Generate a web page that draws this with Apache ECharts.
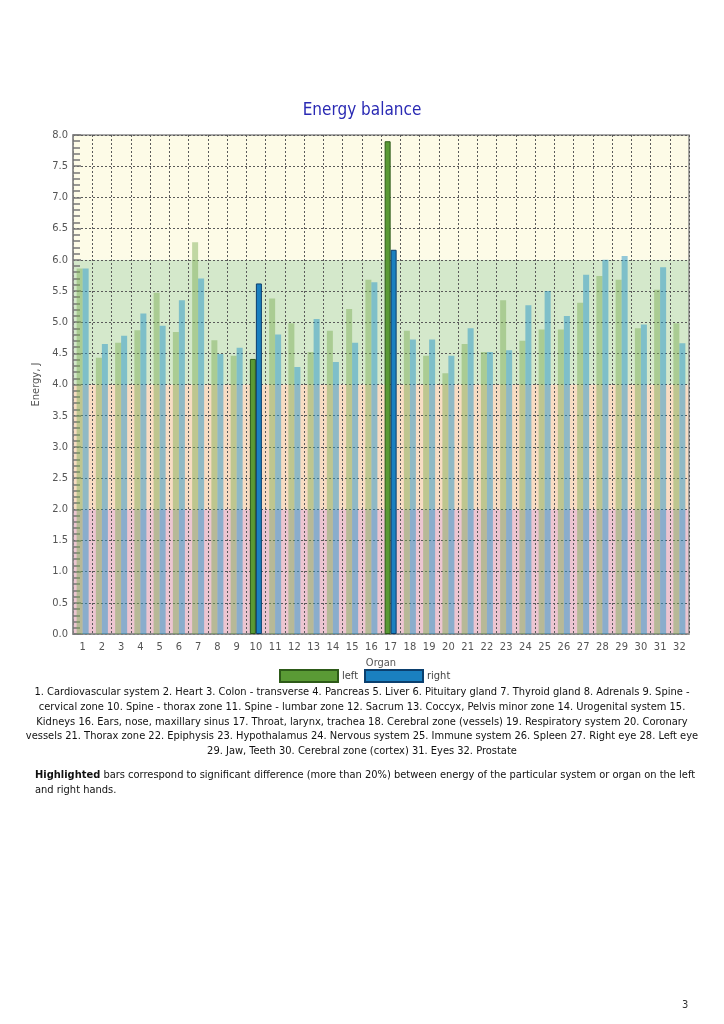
<!DOCTYPE html>
<html>
<head>
<meta charset="utf-8">
<script src="https://cdn.jsdelivr.net/npm/echarts@6/dist/echarts.min.js"></script>
<style>
html,body{margin:0;padding:0;background:#fff;}
#chart{width:724px;height:1024px;}
</style>
</head>
<body>
<div id="chart"></div>
<script>
const organs = ['1','2','3','4','5','6','7','8','9','10','11','12','13','14','15','16','17','18','19','20','21','22','23','24','25','26','27','28','29','30','31','32'];
const leftValues = [5.86,4.43,4.67,4.87,5.47,4.84,6.28,4.71,4.46,4.41,5.38,4.98,4.52,4.86,5.21,5.68,7.90,4.86,4.46,4.18,4.65,4.52,5.35,4.70,4.88,4.88,5.31,5.74,5.68,4.90,5.52,4.98];
const rightValues = [5.86,4.65,4.78,5.14,4.94,5.35,5.70,4.49,4.59,5.62,4.80,4.28,5.05,4.36,4.67,5.64,6.16,4.72,4.72,4.46,4.90,4.52,4.55,5.27,5.50,5.10,5.76,6.00,6.06,4.96,5.88,4.66];
const highlighted = ['10','17'];
const yTicks = [0,0.5,1,1.5,2,2.5,3,3.5,4,4.5,5,5.5,6,6.5,7,7.5,8];
const bands = [[0,2,'#ecc5d1'],[2,4,'#f7dcc3'],[4,6,'#d4e8cb'],[6,8,'#fdfbe7']];
const footLines = [
 '1. Cardiovascular system 2. Heart 3. Colon - transverse 4. Pancreas 5. Liver 6. Pituitary gland 7. Thyroid gland 8. Adrenals 9. Spine -',
 'cervical zone 10. Spine - thorax zone 11. Spine - lumbar zone 12. Sacrum 13. Coccyx, Pelvis minor zone 14. Urogenital system 15.',
 'Kidneys 16. Ears, nose, maxillary sinus 17. Throat, larynx, trachea 18. Cerebral zone (vessels) 19. Respiratory system 20. Coronary',
 'vessels 21. Thorax zone 22. Epiphysis 23. Hypothalamus 24. Nervous system 25. Immune system 26. Spleen 27. Right eye 28. Left eye',
 '29. Jaw, Teeth 30. Cerebral zone (cortex) 31. Eyes 32. Prostate'
];
const noteBold = 'Highlighted';
const noteLine1 = ' bars correspond to significant difference (more than 20%) between energy of the particular system or organ on the left';
const noteLine2 = 'and right hands.';

const FONT = '"DejaVu Sans Condensed", "DejaVu Sans", sans-serif';

function mk(vals, hiColor, hiBorder, dimColor) {
  return vals.map((v, i) => highlighted.includes(organs[i])
    ? {value: v, itemStyle: {color: hiColor, borderColor: hiBorder, borderWidth: 1}}
    : {value: v, itemStyle: {color: dimColor, borderWidth: 0}});
}

const graphics = [];
footLines.forEach((t, i) => {
  graphics.push({type: 'text', left: 'center', top: 687 + i * 14.6,
    style: {text: t, font: '11px ' + FONT, fill: '#111'}});
});
graphics.push({type: 'text', left: 35, top: 768,
  style: {text: '{b|' + noteBold + '}' + noteLine1 + '\n' + noteLine2,
    font: '11px ' + FONT, fill: '#111', lineHeight: 15,
    rich: {b: {fontWeight: 'bold', fontFamily: FONT, fontSize: 11, fill: '#111'}}}});
graphics.push({type: 'text', left: 682, top: 1000,
  style: {text: '3', font: '11px ' + FONT, fill: '#333'}});

const chart = echarts.init(document.getElementById('chart'));
chart.setOption({
  backgroundColor: '#ffffff',
  animation: false,
  title: {text: 'Energy balance', left: 'center', top: 97,
    textStyle: {color: '#2a2ab4', fontSize: 17, fontWeight: 'normal', fontFamily: FONT}},
  legend: {data: ['left', 'right'], top: 669, left: 279, padding: 0, icon: 'rect',
    itemWidth: 58, itemHeight: 12, itemGap: 6,
    textStyle: {fontFamily: FONT, fontSize: 11, color: '#444', padding: [0, 0, 0, -1]}},
  grid: {left: 73, right: 35, top: 135, bottom: 390, show: true, z: 2,
    borderColor: '#8c8c8c', borderWidth: 1.5, backgroundColor: 'transparent'},
  xAxis: {type: 'category', data: organs, boundaryGap: true, z: 2,
    name: 'Organ', nameLocation: 'middle', nameGap: 24,
    nameTextStyle: {fontFamily: FONT, fontSize: 11, color: '#555'},
    axisLine: {lineStyle: {color: '#8c8c8c', width: 1.5}},
    axisTick: {show: false},
    axisLabel: {interval: 0, fontFamily: FONT, fontSize: 11, color: '#555', margin: 8},
    splitLine: {show: true, interval: 0, lineStyle: {type: [2, 2], color: '#5a5a5a', width: 1}}},
  yAxis: {type: 'value', min: yTicks[0], max: yTicks[yTicks.length - 1], interval: 0.5, z: 2,
    name: 'Energy, J', nameLocation: 'middle', nameGap: 29,
    nameTextStyle: {fontFamily: FONT, fontSize: 11, color: '#555'},
    axisLine: {show: true, lineStyle: {color: '#8c8c8c', width: 1.5}},
    axisTick: {show: true, inside: true, length: 8, lineStyle: {color: '#777', width: 1.5}},
    minorTick: {show: true, splitNumber: 5, length: 7, lineStyle: {color: '#777', width: 1.5}},
    axisLabel: {formatter: v => v.toFixed(1), fontFamily: FONT, fontSize: 11, color: '#555', margin: 5},
    splitLine: {show: true, lineStyle: {type: [2, 2], color: '#5a5a5a', width: 1}}},
  graphic: graphics,
  series: [
    {name: 'bands', type: 'line', data: [], z: 0, zlevel: 0, silent: true,
      markArea: {silent: true, data: bands.map(b => [{yAxis: b[0], itemStyle: {color: b[2]}}, {yAxis: b[1]}])}},
    {name: 'left', type: 'bar', barWidth: 6, barGap: '0%', z: 3,
      itemStyle: {color: '#5a9a35', borderColor: '#2d5a18', borderWidth: 1},
      data: mk(leftValues, '#5a9a35', '#2d5a18', 'rgba(120,170,80,0.45)')},
    {name: 'right', type: 'bar', barWidth: 6, barGap: '0%', z: 3,
      itemStyle: {color: '#1a80c0', borderColor: '#0b3f6e', borderWidth: 1},
      data: mk(rightValues, '#1a80c0', '#0b3f6e', 'rgba(40,150,200,0.5)')}
  ]
});
</script>
</body>
</html>
